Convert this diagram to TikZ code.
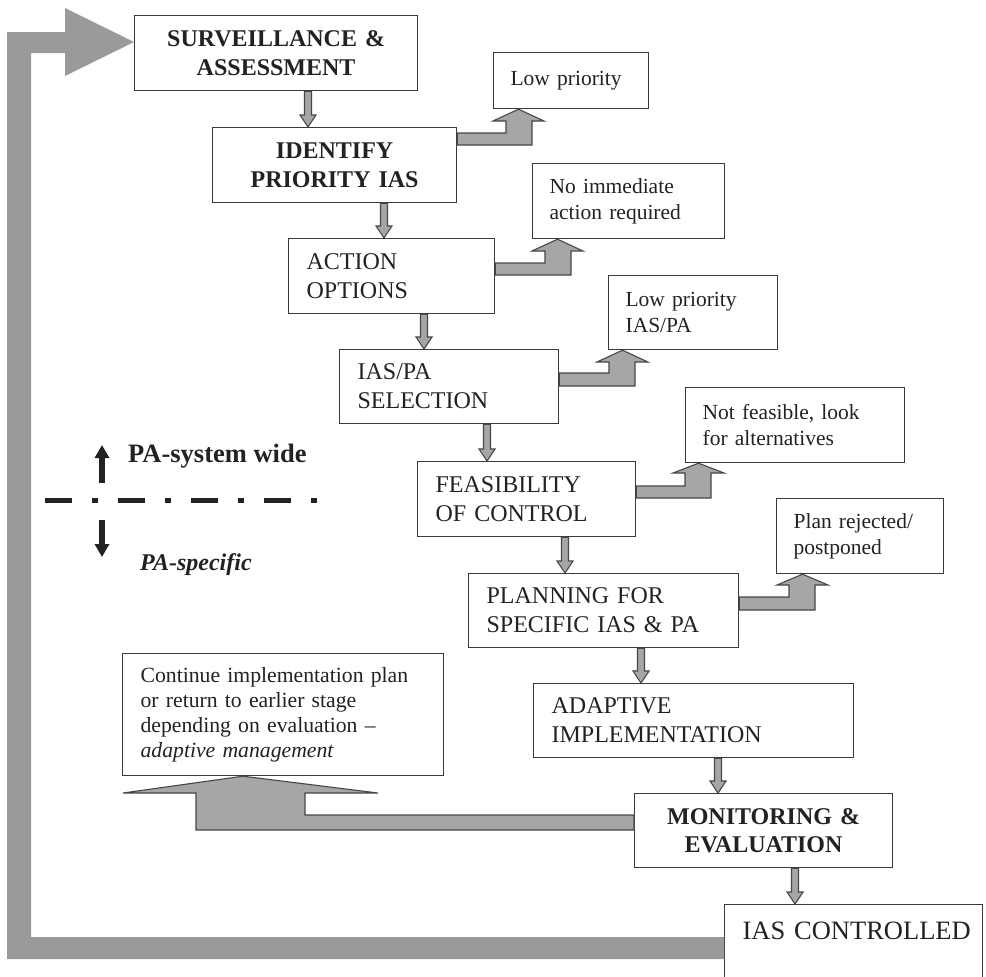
\documentclass[tikz,border=0pt]{standalone}
\usepackage{fontspec}
\setmainfont{Liberation Serif}
\usetikzlibrary{arrows.meta,calc}
\definecolor{boxline}{HTML}{3A3A3A}
\definecolor{arrfill}{HTML}{A6A6A6}
\definecolor{arrline}{HTML}{474747}
\definecolor{bandgray}{HTML}{9A9A9A}
\definecolor{ink}{HTML}{222222}
\tikzset{
  stage/.style={draw=boxline, line width=1.2pt, anchor=north west, inner xsep=18pt, inner ysep=0pt,
    align=left, text=ink, font=\fontsize{24}{29}\selectfont},
  stagebold/.style={stage, align=center, font=\fontsize{24}{28.5}\selectfont\bfseries},
  outcome/.style={stage, inner xsep=17pt, font=\fontsize{21.5}{26}\selectfont},
  arrowshape/.style={fill=arrfill, draw=arrline, line width=1.1pt},
  legendtext/.style={anchor=base west, inner sep=0pt, text=ink},
}
\newcommand{\dnarr}[3]{%
  \path[arrowshape] let \p1=(#2.south), \p2=(#3.north) in
    ({#1pt-3.5pt},\y1) -- ({#1pt-3.5pt},{\y2+12pt}) -- ({#1pt-8pt},{\y2+12pt}) -- (#1pt,\y2)
    -- ({#1pt+8pt},{\y2+12pt}) -- ({#1pt+3.5pt},{\y2+12pt}) -- ({#1pt+3.5pt},\y1) -- cycle;}
\newcommand{\elbow}[8]{%
  \path[arrowshape] let \p1=(#1.east), \p2=(#2.south) in
    (\x1,-#3pt) -- (#5pt,-#3pt) -- (#5pt,-#7pt) -- (#8pt,-#7pt) -- ({#8pt+25.5pt},\y2)
    -- ({#8pt+51pt},-#7pt) -- (#6pt,-#7pt) -- (#6pt,-#4pt) -- (\x1,-#4pt) -- cycle;}
\begin{document}
\begin{tikzpicture}[x=1pt,y=-1pt]
\useasboundingbox (0,0) rectangle (986,977);
\fill[white] (0,0) rectangle (986,977);

% main stages
\node[stagebold, text width=247pt, minimum height=75pt] (b1) at (134,15) {SURVEILLANCE \&\\ASSESSMENT};
\node[stagebold, text width=208pt, minimum height=75pt] (b2) at (212,127) {IDENTIFY\\PRIORITY IAS};
\node[stage, text width=170pt, minimum height=75pt] (b3) at (288,238) {ACTION\\OPTIONS};
\node[stage, text width=183pt, minimum height=74pt] (b4) at (339,349) {IAS/PA\\SELECTION};
\node[stage, text width=182pt, minimum height=75pt] (b5) at (417,461) {FEASIBILITY\\OF CONTROL};
\node[stage, text width=234pt, minimum height=74pt] (b6) at (468,573) {PLANNING FOR\\SPECIFIC IAS \& PA};
\node[stage, text width=284pt, minimum height=74pt] (b7) at (533,683) {ADAPTIVE\\IMPLEMENTATION};
\node[stagebold, text width=222pt, minimum height=74pt] (mon) at (634,793) {MONITORING \&\\EVALUATION};
\node[stage, inner xsep=18pt, text width=222pt, font=\fontsize{26.5}{30}\selectfont,
      text height=18pt, text depth=50pt, inner ysep=17pt] (ctrl) at (724,904) {\mbox{IAS CONTROLLED}};

% outcomes
\node[outcome, text width=121pt, minimum height=56pt] (s1) at (493,52) {Low priority};
\node[outcome, text width=158pt, minimum height=75pt] (s2) at (532,163) {No immediate\\action required};
\node[outcome, text width=135pt, minimum height=74pt] (s3) at (608,275) {Low priority\\IAS/PA};
\node[outcome, text width=185pt, minimum height=75pt] (s4) at (685,387) {Not feasible, look\\for alternatives};
\node[outcome, text width=133pt, minimum height=75pt] (s5) at (776,498) {Plan rejected/\\postponed};
\node[stage, inner xsep=18pt, text width=285pt, minimum height=122pt, font=\fontsize{21.7}{25}\selectfont] (cont) at (122,653)
  {Continue implementation plan\\or return to earlier stage\\depending on evaluation --\\\textit{adaptive management}};

% return loop band
\path[fill=bandgray] let \p1=(ctrl.west), \p2=(b1.west) in
  (\x1,-937pt) -- (31pt,-937pt) -- (31pt,-53pt) -- (65pt,-53pt) -- (65pt,-76pt) -- (\x2,-42pt)
  -- (65pt,-8pt) -- (65pt,-32pt) -- (7pt,-32pt) -- (7pt,-959pt) -- (\x1,-959pt) -- cycle;

% down arrows
\dnarr{308}{b1}{b2}
\dnarr{384}{b2}{b3}
\dnarr{424}{b3}{b4}
\dnarr{487}{b4}{b5}
\dnarr{565}{b5}{b6}
\dnarr{641}{b6}{b7}
\dnarr{718}{b7}{mon}
\dnarr{795}{mon}{ctrl}

% elbow arrows to outcomes
\elbow{b2}{s1}{133}{145}{506}{532}{121}{493}
\elbow{b3}{s2}{263}{275}{545}{571}{251}{532}
\elbow{b4}{s3}{373}{386}{609}{635}{362}{597}
\elbow{b5}{s4}{486}{498}{685}{711}{473}{673}
\elbow{b6}{s5}{597}{610}{789}{815}{585}{777}

% adaptive management arrow
\path[arrowshape] let \p1=(mon.west), \p2=(cont.south) in
  (\x1,-815pt) -- (305pt,-815pt) -- (305pt,-793pt) -- (378pt,-793pt) -- (243pt,\y2)
  -- (123pt,-793pt) -- (196pt,-793pt) -- (196pt,-830pt) -- (\x1,-830pt) -- cycle;

% legend
\coordinate (upfrom) at (102,483);
\coordinate (upto) at (102,445);
\coordinate (dnfrom) at (102,520);
\coordinate (dnto) at (102,557);
\coordinate (divL) at (45,500);
\coordinate (divR) at (320,500);
\draw[ink, line width=6pt, -{Triangle[length=13pt,width=14pt]}] (upfrom) -- (upto);
\draw[ink, line width=6pt, -{Triangle[length=13pt,width=14pt]}] (dnfrom) -- (dnto);
\draw[ink, line width=5pt, dash pattern=on 27pt off 20pt on 6pt off 20pt] (divL) -- (divR);
\node[legendtext, font=\fontsize{26.5}{30}\selectfont\bfseries] (lgup) at (128,462) {PA-system wide};
\node[legendtext, font=\fontsize{24}{28}\selectfont\bfseries\itshape] (lgdn) at (140,570) {PA-specific};
\end{tikzpicture}
\end{document}
